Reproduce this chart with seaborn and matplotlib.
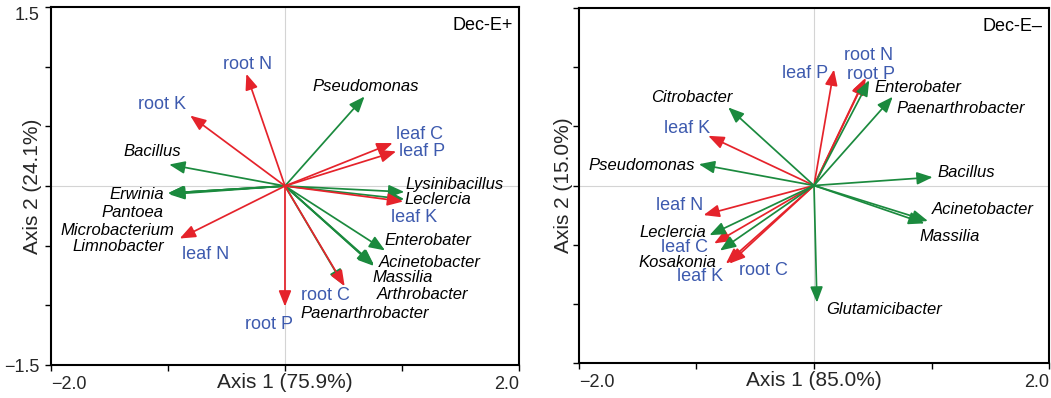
import matplotlib
matplotlib.use("Agg")
import matplotlib.pyplot as plt
from matplotlib.patches import FancyArrowPatch
from matplotlib.transforms import ScaledTranslation
import seaborn as sns

# ---- Dec-E+ : environmental vectors (red) and genus vectors (green)
plus_env_names = ["root N", "root K", "leaf C", "leaf P", "leaf K", "leaf N", "root C", "root P"]
plus_env_x = [-0.33, -0.81, 0.92, 0.95, 1.01, -0.90, 0.51, 0.00]
plus_env_y = [0.94, 0.59, 0.36, 0.29, -0.13, -0.44, -0.84, -1.01]

plus_gen_names = ["Pseudomonas", "Bacillus", "Lysinibacillus", "Erwinia", "Pantoea",
                  "Microbacterium", "Limnobacter", "Leclercia", "Enterobater",
                  "Acinetobacter", "Massilia", "Arthrobacter", "Paenarthrobacter"]
plus_gen_x = [0.68, -0.99, 1.02, -1.00, -1.00, -0.99, -0.99, 1.02, 0.855, 0.76, 0.76, 0.75, 0.50]
plus_gen_y = [0.75, 0.18, -0.05, -0.06, -0.06, -0.07, -0.06, -0.11, -0.54, -0.66, -0.67, -0.66, -0.83]

# ---- Dec-E- : environmental vectors (red) and genus vectors (green)
minus_env_names = ["root N", "root P", "leaf P", "leaf K", "leaf N", "leaf C", "leaf K", "root C"]
minus_env_x = [0.43, 0.44, 0.17, -0.90, -0.94, -0.85, -0.75, -0.72]
minus_env_y = [0.90, 0.91, 0.98, 0.42, -0.25, -0.49, -0.66, -0.66]

minus_gen_names = ["Enterobater", "Paenarthrobacter", "Citrobacter", "Pseudomonas", "Bacillus",
                   "Leclercia", "Kosakonia", "Acinetobacter", "Massilia", "Glutamicibacter"]
minus_gen_x = [0.47, 0.67, -0.73, -0.98, 1.01, -0.89, -0.80, 0.97, 0.94, 0.025]
minus_gen_y = [0.89, 0.75, 0.66, 0.18, 0.07, -0.42, -0.55, -0.30, -0.32, -0.99]

panel_titles = ["Dec-E+", "Dec-E\u2013"]
x_axis_titles = ["Axis 1 (75.9%)", "Axis 1 (85.0%)"]
y_axis_titles = ["Axis 2 (24.1%)", "Axis 2 (15.0%)"]

# label placement (data coordinates, text centre)
plus_env_lab = [(-0.32, 1.02), (-1.05, 0.68), (1.15, 0.43), (1.17, 0.285), (1.10, -0.26),
                (-0.68, -0.57), (0.35, -0.914), (-0.14, -1.157)]
plus_gen_lab = [(0.69, 0.83), (-1.13, 0.285), (1.45, 0.01), (-1.265, -0.075), (-1.30, -0.226),
                (-1.436, -0.369), (-1.427, -0.51), (1.31, -0.117), (1.22, -0.46),
                (1.24, -0.637), (1.01, -0.763), (1.18, -0.905), (0.68, -1.065)]
minus_env_lab = [(0.468, 1.095), (0.485, 0.934), (-0.077, 0.943), (-1.08, 0.478),
                 (-1.14, -0.173), (-1.106, -0.52), (-0.97, -0.773), (-0.434, -0.714)]
minus_gen_lab = [(0.885, 0.824), (1.25, 0.647), (-1.04, 0.74), (-1.47, 0.173), (1.294, 0.106),
                 (-1.20, -0.393), (-1.166, -0.647), (1.438, -0.199), (1.157, -0.427),
                 (0.596, -1.044)]

RED = "#e5232b"
GREEN = "#1b8a3e"
BLUE = "#3d5aae"

sns.set_theme(style="ticks")
plt.rcParams["font.family"] = ["Liberation Sans", "DejaVu Sans"]

fig = plt.figure(figsize=(10.51, 3.98), dpi=100)
ax_plus = fig.add_axes([0.0485, 0.0829, 0.4453, 0.8995])
ax_minus = fig.add_axes([0.5509, 0.0879, 0.4472, 0.892])


def arrows(ax, xs, ys, color):
    for x, y in zip(xs, ys):
        ax.add_patch(FancyArrowPatch((0, 0), (x, y),
                                     arrowstyle="-|>,head_length=0.95,head_width=0.38",
                                     mutation_scale=10, color=color, lw=1.25,
                                     shrinkA=0, shrinkB=0, zorder=3))


def draw_panel(ax, env, gen, env_lab, gen_lab, title, xt, yt, ytick_labels, red_first):
    ax.set_xlim(-2, 2)
    ax.set_ylim(-1.5, 1.5)
    ax.axhline(0, color="#d4d4d4", lw=0.8, zorder=1)
    ax.axvline(0, color="#d4d4d4", lw=0.8, zorder=1)

    if red_first:
        arrows(ax, env[1], env[2], RED)
        arrows(ax, gen[1], gen[2], GREEN)
    else:
        arrows(ax, gen[1], gen[2], GREEN)
        arrows(ax, env[1], env[2], RED)

    for name, (lx, ly) in zip(env[0], env_lab):
        ax.text(lx, ly, name, color=BLUE, fontsize=13, ha="center", va="center", zorder=4)
    for name, (lx, ly) in zip(gen[0], gen_lab):
        ax.text(lx, ly, name, color="black", fontsize=12, style="italic",
                ha="center", va="center", zorder=4)

    ax.text(0.986, 0.948, title, transform=ax.transAxes, ha="right", va="center",
            fontsize=13, color="black")

    for sp in ax.spines.values():
        sp.set_linewidth(1.5)
        sp.set_color("black")
    ax.grid(False)
    ax.set_facecolor("white")

    ax.set_xticks([-2, -1, 0, 1, 2])
    ax.set_xticklabels(["\u22122.0", "", "", "", "2.0"], fontsize=13)
    xl = ax.get_xticklabels()
    xl[0].set_ha("left")
    xl[0].set_transform(xl[0].get_transform() + ScaledTranslation(-2 / 72, 0, fig.dpi_scale_trans))
    xl[-1].set_ha("right")
    ax.set_yticks([-1.5, -1.0, -0.5, 0, 0.5, 1.0, 1.5])
    if ytick_labels:
        ax.set_yticklabels(["\u22121.5", "", "", "", "", "", "1.5"], fontsize=13)
        yl = ax.get_yticklabels()
        yl[-1].set_va("top")
        yl[-1].set_transform(yl[-1].get_transform() + ScaledTranslation(0, -3.5 / 72, fig.dpi_scale_trans))
        yl[0].set_transform(yl[0].get_transform() + ScaledTranslation(0, 2.0 / 72, fig.dpi_scale_trans))
    else:
        ax.set_yticklabels([])
    ax.tick_params(direction="out", length=4, width=1, color="black", pad=4)

    ax.set_xlabel(xt, fontsize=15)
    ax.xaxis.set_label_coords(0.5, -0.05)
    ax.xaxis.label.set_va("center")
    ax.set_ylabel(yt, fontsize=15)
    ax.yaxis.label.set_va("center")


draw_panel(ax_plus, (plus_env_names, plus_env_x, plus_env_y),
           (plus_gen_names, plus_gen_x, plus_gen_y), plus_env_lab, plus_gen_lab,
           panel_titles[0], x_axis_titles[0], y_axis_titles[0], True, False)
ax_plus.yaxis.set_label_coords(-0.039, 0.5)

draw_panel(ax_minus, (minus_env_names, minus_env_x, minus_env_y),
           (minus_gen_names, minus_gen_x, minus_gen_y), minus_env_lab, minus_gen_lab,
           panel_titles[1], x_axis_titles[1], y_axis_titles[1], False, True)
ax_minus.yaxis.set_label_coords(-0.034, 0.5)

fig.savefig("out.png", dpi=100, facecolor="white")
